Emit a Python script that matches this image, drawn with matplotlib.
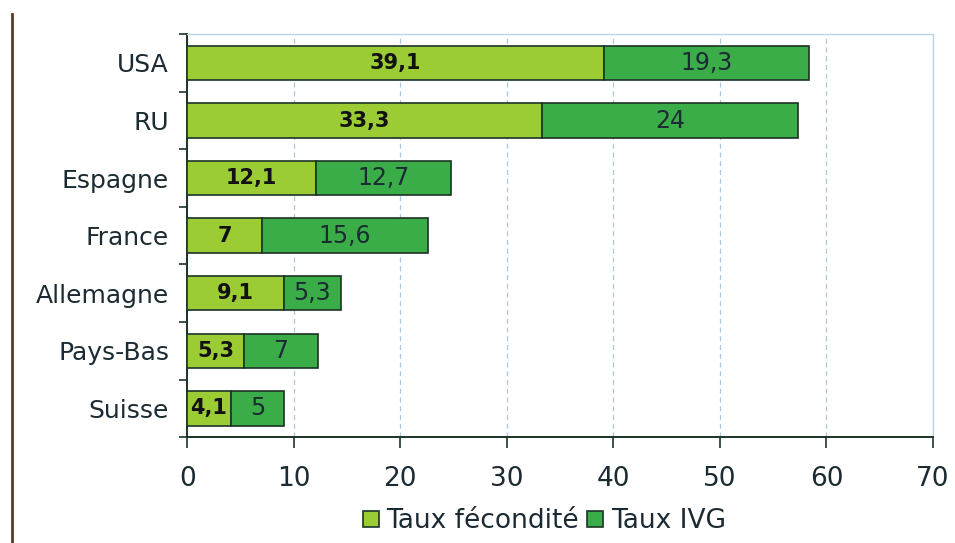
"""Taux de fécondité et d'IVG par pays : barres horizontales empilées."""

import matplotlib

matplotlib.use("Agg")
import matplotlib.pyplot as plt
from matplotlib.lines import Line2D
from matplotlib.patches import Patch
import numpy as np

countries = ["USA", "RU", "Espagne", "France", "Allemagne", "Pays-Bas", "Suisse"]
fecondite = [39.1, 33.3, 12.1, 7, 9.1, 5.3, 4.1]
ivg = [19.3, 24, 12.7, 15.6, 5.3, 7, 5]
series_labels = ["Taux fécondité", "Taux IVG"]

LIGHT = "#9ccc34"
DARK = "#3aad48"
EDGE = "#1c3326"
TEXT = "#1c2b33"


def fmt(v):
    return f"{v:g}".replace(".", ",")


fig = plt.figure(figsize=(9.55, 5.43), dpi=100)
ax = fig.add_axes([0.196, 0.195, 0.781, 0.742])

y = np.arange(len(countries))
fec = np.array(fecondite)
iv = np.array(ivg)

ax.barh(y, fec, height=0.6, color=LIGHT, edgecolor=EDGE, lw=1.2, zorder=3)
ax.barh(y, iv, left=fec, height=0.6, color=DARK, edgecolor=EDGE, lw=1.2, zorder=3)

for yi, a, b in zip(y, fec, iv):
    ax.text(a / 2, yi, fmt(a), ha="center", va="center", fontsize=15,
            fontweight="bold", color="#111111", zorder=4)
    ax.text(a + b / 2, yi, fmt(b), ha="center", va="center", fontsize=17,
            color=TEXT, zorder=4)

ax.set_xlim(0, 70)
ax.set_ylim(len(countries) - 0.5, -0.5)
ax.set_xticks(range(0, 71, 10))
ax.set_yticks(y)
ax.set_yticklabels(countries)
ax.set_yticks(np.arange(-0.5, len(countries), 1), minor=True)
ax.tick_params(axis="y", which="major", length=0, pad=13, labelsize=18, labelcolor=TEXT)
ax.tick_params(axis="y", which="minor", length=6, width=1.2, color=EDGE)
ax.tick_params(axis="x", length=8, width=1.2, color=EDGE, pad=13,
               labelsize=19, labelcolor=TEXT)

ax.grid(axis="x", color="#a9c8e0", ls=(0, (4, 3)), lw=0.9, zorder=0)
for side in ("top", "right"):
    ax.spines[side].set_color("#bcd4ea")
    ax.spines[side].set_linewidth(1.0)
for side in ("left", "bottom"):
    ax.spines[side].set_color(EDGE)
    ax.spines[side].set_linewidth(1.4)

handles = [Patch(facecolor=LIGHT, edgecolor=EDGE, lw=1.2),
           Patch(facecolor=DARK, edgecolor=EDGE, lw=1.2)]
fig.legend(handles, series_labels, loc="center", bbox_to_anchor=(0.57, 0.04),
           ncol=2, frameon=False, fontsize=19, handlelength=0.6, handleheight=0.6,
           handletextpad=0.3, columnspacing=0.3, labelcolor=TEXT)

# trait vertical à gauche de l'image
fig.add_artist(Line2D([0.0126, 0.0126], [0.0, 0.975], color="#5a3a2a", lw=2.0))

fig.savefig("out.png", dpi=100)
